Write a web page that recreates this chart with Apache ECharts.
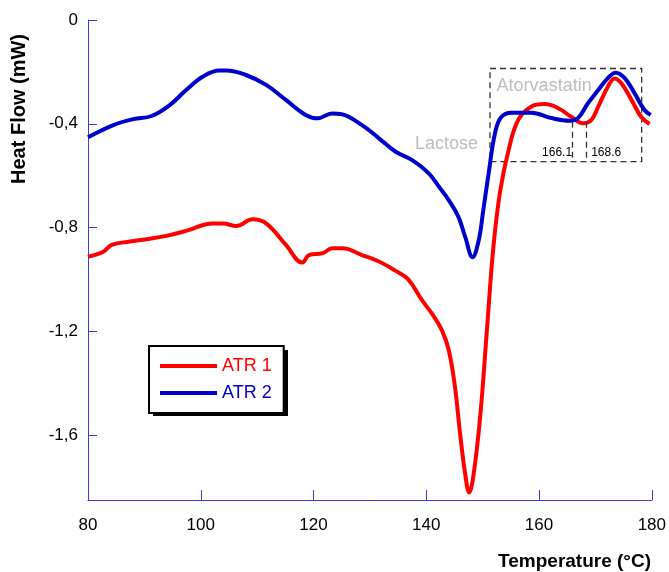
<!DOCTYPE html>
<html><head><meta charset="utf-8">
<script src="https://cdn.jsdelivr.net/npm/echarts@6/dist/echarts.min.js"></script>
<style>html,body{margin:0;padding:0;background:#fff}#c{width:669px;height:572px}</style>
</head><body><div id="c"></div>
<script>
const seriesNames = ['ATR 1', 'ATR 2'];
const atr1Temp = [80,82.7,84.2,87.4,90.4,93.9,97.4,102.1,103.9,106.3,109.2,111.6,115.1,118.0,119.2,121.6,123.3,125.1,128.6,131.6,134.5,136.8,139.2,141.0,142.8,144.0,145.1,146.0,146.9,147.6,148.4,149.6,150.7,151.9,153.1,154.6,156.3,158.6,161.0,163.4,165.7,167.8,169.3,170.5,172.2,173.4,174.6,176.4,178.1,179.6];
const atr1Flow = [-0.912,-0.893,-0.867,-0.854,-0.845,-0.832,-0.813,-0.784,-0.784,-0.794,-0.768,-0.784,-0.867,-0.935,-0.906,-0.899,-0.880,-0.880,-0.906,-0.931,-0.966,-1.000,-1.079,-1.132,-1.197,-1.274,-1.416,-1.596,-1.750,-1.821,-1.750,-1.519,-1.210,-0.875,-0.660,-0.501,-0.385,-0.334,-0.324,-0.340,-0.373,-0.398,-0.385,-0.334,-0.257,-0.225,-0.244,-0.308,-0.373,-0.401];
const atr2Temp = [80,84.5,88,91.3,94.5,97.4,100.4,103.3,104.5,108,111.6,115.1,118.6,120.7,123.3,124.8,128.6,131.6,134.5,137.5,140.4,142.5,144.0,145.7,146.9,148.2,149.3,150.1,151.0,152.2,153.3,155.1,158.6,162.2,165.5,166.9,168.7,170.5,172.2,173.6,175.2,176.9,178.7,179.8];
const atr2Flow = [-0.452,-0.405,-0.382,-0.370,-0.328,-0.270,-0.218,-0.195,-0.195,-0.212,-0.250,-0.308,-0.366,-0.379,-0.360,-0.362,-0.405,-0.456,-0.507,-0.540,-0.590,-0.650,-0.695,-0.759,-0.836,-0.914,-0.849,-0.734,-0.600,-0.435,-0.374,-0.357,-0.357,-0.378,-0.388,-0.378,-0.320,-0.270,-0.224,-0.203,-0.224,-0.281,-0.347,-0.366];
const yTicks = [0, -0.4, -0.8, -1.2, -1.6];
const peakMarks = [166.1, 168.6];
const boxX = [151.3, 178.2];
const boxY = [-0.187, -0.546];

const zip = (a, b) => a.map((t, i) => [t, b[i]]);
const axisBlue = '#3b3bdd';
const chart = echarts.init(document.getElementById('c'), null, {renderer: 'canvas'});
chart.setOption({
  animation: false,
  backgroundColor: '#fff',
  grid: {left: 88, right: 15, top: 20, bottom: 72, containLabel: false},
  xAxis: {
    type: 'value', min: 80, max: 180, interval: 20,
    axisLine: {onZero: false, lineStyle: {color: axisBlue, width: 1}},
    axisTick: {inside: true, length: 10, lineStyle: {color: axisBlue}},
    axisLabel: {color: '#000', fontSize: 17, fontFamily: 'Liberation Sans, Arial', margin: 17},
    splitLine: {show: false}
  },
  yAxis: {
    type: 'value', min: -1.85, max: 0,
    axisLine: {show: true, onZero: false, lineStyle: {color: axisBlue, width: 1}},
    axisTick: {show: true, inside: true, length: 9, lineStyle: {color: axisBlue}, customValues: yTicks},
    axisLabel: {color: '#000', fontSize: 17, fontFamily: 'Liberation Sans, Arial', margin: 10,
      customValues: yTicks,
      formatter: v => (Math.round(v * 10) / 10).toString().replace('.', ',')},
    splitLine: {show: false}
  },
  legend: {
    orient: 'vertical', left: 149, top: 346, z: 10,
    padding: [10, 12, 10, 11], itemGap: 7,
    itemWidth: 57, itemHeight: 4, icon: 'rect',
    backgroundColor: '#fff', borderColor: '#000', borderWidth: 2,
    textStyle: {fontSize: 18, fontFamily: 'Liberation Sans, Arial', lineHeight: 20},
    data: [
      {name: seriesNames[0], textStyle: {color: '#ff0000'}},
      {name: seriesNames[1], textStyle: {color: '#0000cc'}}
    ]
  },
  graphic: [
    {type: 'rect', z: 1, shape: {x: 153, y: 350, width: 135, height: 66}, style: {fill: '#000'}},
    {type: 'text', x: 19, y: 109, rotation: Math.PI / 2,
      style: {text: 'Heat Flow (mW)', fill: '#000', font: 'bold 20px "Liberation Sans", Arial', align: 'center', verticalAlign: 'middle'}},
    {type: 'text', x: 651, y: 562,
      style: {text: 'Temperature (°C)', fill: '#000', font: 'bold 19px "Liberation Sans", Arial', align: 'right', verticalAlign: 'middle'}}
  ],
  series: [
    {
      name: seriesNames[0], type: 'line', data: zip(atr1Temp, atr1Flow),
      showSymbol: false, smooth: 0.4,
      lineStyle: {color: '#ff0000', width: 4}, itemStyle: {color: '#ff0000'},
      z: 3
    },
    {
      name: seriesNames[1], type: 'line', data: zip(atr2Temp, atr2Flow),
      showSymbol: false, smooth: 0.4,
      lineStyle: {color: '#0000cc', width: 4}, itemStyle: {color: '#0000cc'},
      z: 4,
      markArea: {
        silent: true,
        itemStyle: {color: 'rgba(0,0,0,0)', borderColor: '#333', borderWidth: 1.3, borderType: [6, 4]},
        data: [[{coord: [boxX[0], boxY[0]]}, {coord: [boxX[1], boxY[1]]}]]
      },
      markLine: {
        silent: true, symbol: 'none', label: {show: false},
        lineStyle: {color: '#333', width: 1.3, type: [6, 4]},
        data: peakMarks.map(t => [{coord: [t - 0.2, -0.392]}, {coord: [t - 0.2, boxY[1]]}])
      },
      markPoint: {
        silent: true, symbol: 'circle', symbolSize: 0,
        data: [
          {coord: [160.9, -0.253], label: {show: true, formatter: 'Atorvastatin', color: '#bdbdbd', fontSize: 18, fontFamily: 'Liberation Sans, Arial', position: 'inside'}},
          {coord: [143.6, -0.477], label: {show: true, formatter: 'Lactose', color: '#bdbdbd', fontSize: 18, fontFamily: 'Liberation Sans, Arial', position: 'inside'}},
          {coord: [163.2, -0.512], label: {show: true, formatter: String(peakMarks[0]), color: '#000', fontSize: 12, fontFamily: 'Liberation Sans, Arial', position: 'inside'}},
          {coord: [171.9, -0.512], label: {show: true, formatter: String(peakMarks[1]), color: '#000', fontSize: 12, fontFamily: 'Liberation Sans, Arial', position: 'inside'}}
        ]
      }
    }
  ]
});
</script></body></html>
